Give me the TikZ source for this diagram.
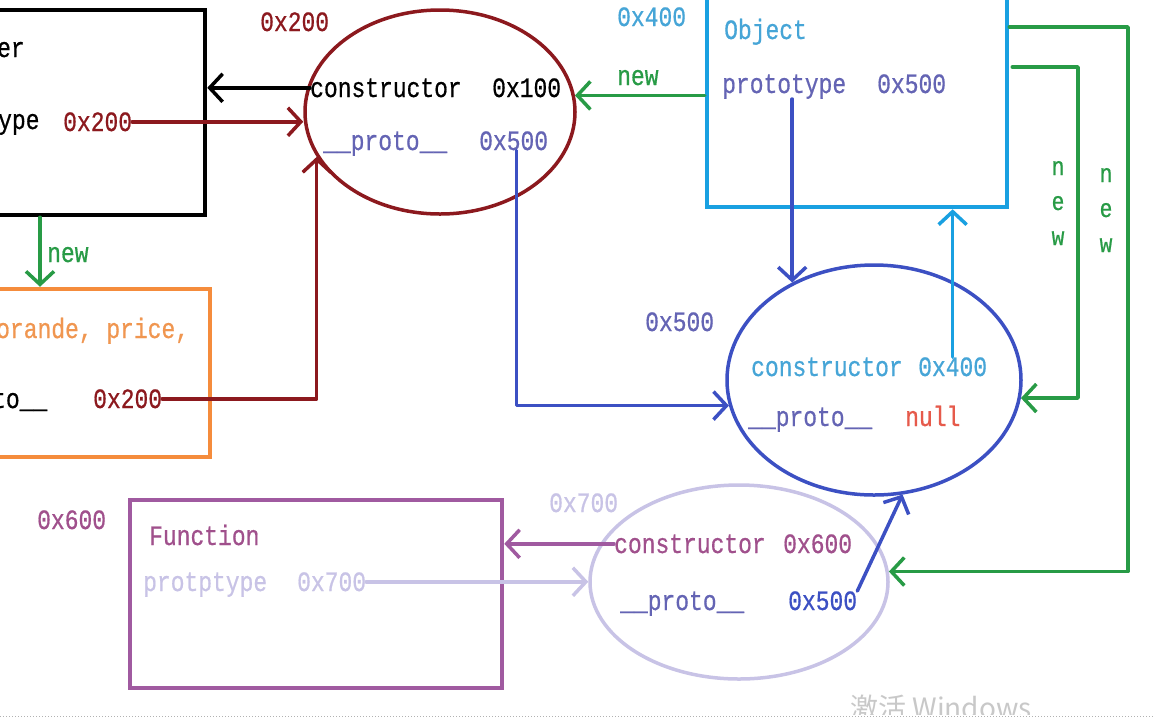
\documentclass[tikz,border=0pt]{standalone}
\usepackage{fontspec}
\usetikzlibrary{shapes.geometric,arrows.meta}
\newfontfamily\mono[FakeStretch=0.82,FakeBold=0.6]{Liberation Mono}
\newfontfamily\cjk{Noto Sans CJK SC}
\definecolor{dred}{RGB}{140,25,30}
\definecolor{gr}{RGB}{40,155,70}
\definecolor{lblue}{RGB}{25,160,225}
\definecolor{lbtext}{RGB}{70,165,215}
\definecolor{slate}{RGB}{100,100,180}
\definecolor{royal}{RGB}{60,80,195}
\definecolor{orng}{RGB}{245,140,60}
\definecolor{orngtext}{RGB}{240,150,80}
\definecolor{purp}{RGB}{160,90,160}
\definecolor{purptext}{RGB}{160,80,140}
\definecolor{lav}{RGB}{200,195,230}
\definecolor{nullred}{RGB}{230,90,75}
\definecolor{wm}{RGB}{200,200,200}
\begin{document}
\begin{tikzpicture}[x=1pt,y=-1pt,
  txt/.style={font={\mono\fontsize{28}{35}\selectfont}, inner sep=0pt, anchor=base west},
  vtxt/.style={font={\mono\fontsize{26}{35}\selectfont}, inner sep=0pt, align=center, text=gr},
  arr/.style={line width=3.5pt, line cap=round, line join=round, -{Straight Barb[length=13pt,width=28pt]}},
  boxs/.style={line width=4.5pt, inner sep=0pt, minimum width=#1},
  ell/.style={ellipse, line width=3.5pt, inner sep=0pt}]
\useasboundingbox (0,0) rectangle (1153,721);
\fill[white] (0,0) rectangle (1153,721);

% shapes
\node[boxs=225pt, draw=black, minimum height=205pt] (box1) at (92.5,112.5) {};
\node[boxs=230pt, draw=orng, minimum height=168pt] (orange) at (95,373) {};
\node[boxs=300pt, draw=lblue, minimum height=227pt] (obj) at (857,93.5) {};
\node[boxs=372pt, draw=purp, minimum height=188pt] (fn) at (316,594) {};
\node[ell, draw=dred, minimum width=270pt, minimum height=204pt] (e1) at (440,112) {};
\node[ell, draw=royal, minimum width=294pt, minimum height=230pt] (e2) at (874,380) {};
\node[ell, draw=lav, minimum width=298pt, minimum height=194pt] (e3) at (739,582) {};

% texts box1
\node[txt] (t1a) at (-3,57) {er};
\node[txt] (t1b) at (-2,129) {ype};
\node[txt, text=dred] (v1) at (63,131) {0x200};
% ellipse 1
\node[txt, text=dred] (a1) at (260,31) {0x200};
\node[txt] (c1) at (310,97) {constructor};
\node[txt] (c1v) at (492,97) {0x100};
\node[txt, text=slate] (p1) at (323,150) {\_\_proto\_\_};
\node[txt, text=slate] (p1v) at (479,150) {0x500};
% object
\node[txt, text=lbtext] (a4) at (617,26) {0x400};
\node[txt, text=gr] (n1) at (617,85) {new};
\node[txt, text=lbtext] (ot) at (724,39) {Object};
\node[txt, text=slate] (op) at (722,93) {prototype};
\node[txt, text=slate] (opv) at (877,93) {0x500};
\node[vtxt] (nw1) at (1058,203) {n\\e\\w};
\node[vtxt] (nw2) at (1106,210) {n\\e\\w};
% orange
\node[txt, text=gr] (n2) at (47,262) {new};
\node[txt, text=orngtext] (o1) at (-4,338) {orande, price,};
\node[txt] (o2) at (-8,408) {to\_\_};
\node[txt, text=dred] (v2) at (93,408) {0x200};
% ellipse 2
\node[txt, text=slate] (a5) at (645,331) {0x500};
\node[txt, text=lbtext] (c2) at (751,376) {constructor};
\node[txt, text=lbtext] (c2v) at (918,376) {0x400};
\node[txt, text=slate] (p2) at (748,426) {\_\_proto\_\_};
\node[txt, text=nullred] (p2v) at (905,426) {null};
% function
\node[txt, text=purptext] (a6) at (37,529) {0x600};
\node[txt, text=purptext] (ft) at (149,545) {Function};
\node[txt, text=lav] (fp) at (143,591) {protptype};
\node[txt, text=lav] (fpv) at (297,591) {0x700};
% ellipse 3
\node[txt, text=lav] (a7) at (549,512) {0x700};
\node[txt, text=purptext] (c3) at (614,553) {constructor};
\node[txt, text=purptext] (c3v) at (783,553) {0x600};
\node[txt, text=slate] (p3) at (620,610) {\_\_proto\_\_};
\node[txt, text=royal] (p3v) at (788,610) {0x500};

% connectors
\coordinate (nx) at (40,0);
\coordinate (g1) at (1128,27);
\coordinate (g2) at (1078,67);
\draw[arr, black] (c1.west) -- (c1.west -| box1.east);
\draw[arr, dred] (v1.east) -- (v1.east -| e1.west);
\draw[arr, dred] (v2.east) -| (e1.200);
\draw[arr, gr] (e1.7 -| obj.west) -- (e1.7);
\draw[arr, gr] (box1.south -| nx) -- (orange.north -| nx);
\draw[arr, royal] ([xshift=3pt]p1v.south) |- (e2.190);
\draw[arr, royal] (e2.130 |- op.south) -- (e2.130);
\draw[arr, lblue] (c2v.north) -- (c2v.north |- obj.south);
\draw[arr, gr] (g1 -| obj.east) -- (g1) |- (e3.4);
\draw[arr, gr] ([xshift=3pt]g2 -| obj.east) -- (g2) |- (e2.-7);
\draw[arr, royal] (p3v.north east) -- (e2.-76);
\draw[arr, purp] (c3.west) -- (c3.west -| fn.east);
\draw[arr, lav] (fpv.east) -- (fpv.east -| e3.west);

% watermark and page edge
\begin{scope}
\clip (0,0) rectangle (1153,714);
\node[font={\cjk\fontsize{28}{28}\selectfont}, text=wm, inner sep=0pt, anchor=base west] (wmk) at (850,718) {激活 Windows};
\end{scope}
\coordinate (d1) at (0,716);
\coordinate (d2) at (1153,716);
\draw[gray!60, dotted, line width=1pt] (d1) -- (d2);
\end{tikzpicture}
\end{document}
